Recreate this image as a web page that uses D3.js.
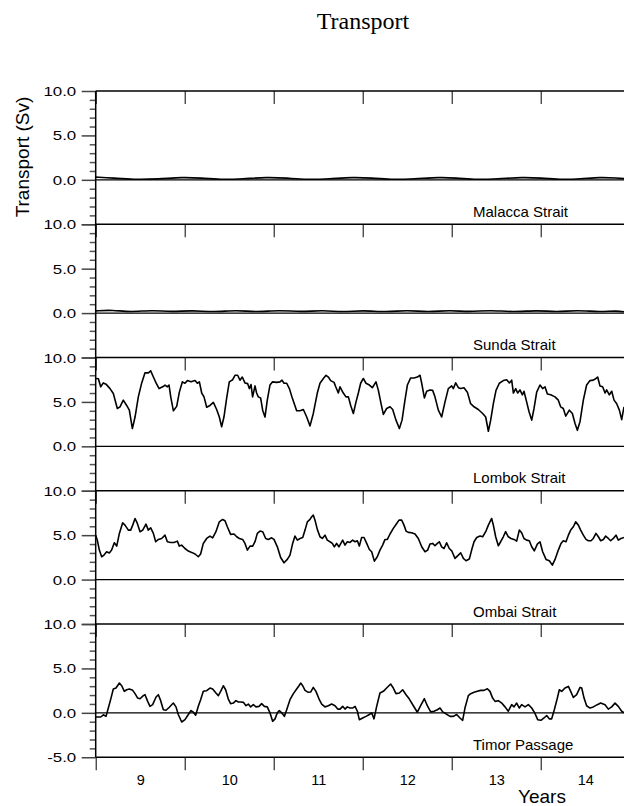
<!DOCTYPE html>
<html><head><meta charset="utf-8">
<script src="https://cdn.jsdelivr.net/npm/d3@7"></script>
<style>html,body{margin:0;padding:0;background:#fff}svg{display:block}</style>
</head><body>
<svg id="c" width="624" height="806"></svg>
<script>
// ---------------- DATA ----------------
const panelNames = ["Malacca Strait","Sunda Strait","Lombok Strait","Ombai Strait","Timor Passage"];
const yearLabels = ["9","10","11","12","13","14"];
const yTickValues = [-5, 0, 5, 10];

const malaccaT = [8.0,8.2,8.42,8.7,8.98,9.18,9.4,9.65,9.92,10.15,10.37,10.62,10.89,11.1,11.31,11.58,11.87,12.05,12.24,12.52,12.8,13.0,13.21,13.45,13.67,13.85,14.0];
const malaccaV = [0.3,0.2,0.03,0.08,0.3,0.2,0.03,0.1,0.3,0.2,0.03,0.1,0.3,0.2,0.03,0.1,0.3,0.2,0.03,0.1,0.3,0.2,0.03,0.1,0.3,0.2,0.1];

const sundaT = [8.0,8.19,8.39,8.64,8.84,9.09,9.32,9.59,9.79,10.07,10.30,10.55,10.78,11.00,11.27,11.50,11.73,11.98,12.20,12.43,12.69,12.96,13.18,13.41,13.67,13.85,14.0];
const sundaV = [0.25,0.35,0.1,0.35,0.12,0.32,0.1,0.35,0.1,0.35,0.12,0.33,0.1,0.32,0.1,0.35,0.1,0.33,0.12,0.35,0.1,0.33,0.1,0.35,0.1,0.3,0.05];

const lombokT = [8.000,8.030,8.056,8.086,8.116,8.161,8.198,8.243,8.273,8.310,8.348,8.378,8.412,8.442,8.479,8.517,8.554,8.592,8.618,8.648,8.678,8.712,8.753,8.779,8.805,8.824,8.843,8.873,8.910,8.940,8.974,9.003,9.030,9.071,9.116,9.142,9.165,9.191,9.217,9.247,9.284,9.322,9.359,9.389,9.415,9.441,9.471,9.501,9.539,9.565,9.595,9.621,9.647,9.677,9.707,9.726,9.745,9.763,9.790,9.808,9.827,9.853,9.876,9.902,9.928,9.958,9.988,10.033,10.071,10.093,10.116,10.146,10.176,10.210,10.258,10.296,10.333,10.371,10.408,10.445,10.490,10.520,10.558,10.588,10.614,10.640,10.678,10.697,10.726,
10.745,10.782,10.812,10.839,10.865,10.895,10.925,10.951,10.977,11.007,11.037,11.075,11.108,11.149,11.176,11.202,11.232,11.269,11.307,11.337,11.374,11.412,11.442,11.475,11.502,11.539,11.576,11.614,11.644,11.663,11.693,11.719,11.756,11.786,11.812,11.850,11.887,11.925,11.962,12.000,12.018,12.045,12.075,12.101,12.138,12.176,12.213,12.251,12.299,12.348,12.382,12.412,12.438,12.468,12.498,12.535,12.580,12.618,12.648,12.674,12.693,12.719,12.741,12.767,12.794,12.812,12.842,12.869,12.899,12.925,12.955,12.992,13.022,13.048,13.075,13.112,13.161,13.198,13.224,13.254,13.281,13.322,13.356,13.385,13.412,13.442,13.479,13.516,13.554,13.591,13.621,13.640,13.666,13.696,13.723,13.741,13.771,13.798,13.824,13.854,13.884,13.910,13.936];
const lombokV = [7.64,7.6,6.7,7.14,7.0,6.5,5.95,4.26,4.45,5.2,4.6,4.07,2.0,3.3,5.57,7.14,8.27,8.27,8.5,7.8,7.14,6.5,6.7,6.9,6.7,6.9,5.57,4.0,4.5,6.1,7.26,7.1,7.4,7.26,7.4,7.1,7.26,6.0,5.57,4.4,4.6,4.94,4.15,3.3,2.2,3.3,5.4,7.26,7.5,8.0,8.0,7.45,7.8,7.14,7.06,6.5,6.95,5.57,6.8,6.0,5.57,5.45,4.07,3.3,5.2,6.9,7.26,7.2,7.26,7.45,7.1,7.1,6.5,5.4,4.0,4.0,4.15,3.3,2.3,3.7,6.0,7.1,7.64,8.0,7.8,7.4,7.2,6.7,6.0,
6.7,6.0,5.57,5.57,4.6,3.7,5.0,6.0,7.1,7.64,7.1,6.9,6.6,7.26,6.3,5.0,3.6,4.26,4.45,4.15,2.95,2.0,2.95,5.2,6.9,7.7,7.7,7.8,8.0,7.1,5.45,6.2,6.35,6.3,5.57,4.07,3.3,5.0,6.5,6.8,6.5,7.14,6.6,6.5,6.6,6.1,4.8,4.45,4.15,3.7,3.3,1.7,2.95,4.8,6.3,7.1,7.4,7.5,7.14,7.45,6.0,6.5,6.0,6.35,5.8,6.2,5.0,3.9,2.95,4.26,6.1,6.9,6.5,6.7,5.9,5.8,5.57,5.2,4.45,4.26,3.4,4.07,3.7,2.6,1.8,2.8,5.2,6.9,7.4,7.45,7.64,7.8,6.8,6.7,6.0,6.35,5.8,6.2,5.2,4.8,4.07,3.0,4.45];

const ombaiT = [8.000,8.018,8.041,8.067,8.093,8.123,8.153,8.179,8.209,8.236,8.266,8.303,8.329,8.367,8.393,8.416,8.442,8.468,8.498,8.528,8.565,8.591,8.618,8.648,8.674,8.704,8.741,8.779,8.805,8.843,8.880,8.917,8.940,8.966,9.003,9.041,9.078,9.116,9.153,9.179,9.209,9.247,9.284,9.314,9.351,9.389,9.426,9.453,9.479,9.516,9.554,9.584,9.614,9.651,9.677,9.704,9.734,9.764,9.790,9.816,9.846,9.876,9.910,9.940,9.977,10.003,10.041,10.078,10.116,10.153,10.183,10.213,10.239,10.266,10.296,10.326,10.352,10.378,10.408,10.427,10.445,10.464,10.490,10.520,10.546,10.576,10.602,10.632,10.659,10.681,10.707,10.733,
10.775,10.801,10.827,10.857,10.887,10.914,10.940,10.962,10.988,11.015,11.045,11.075,11.101,11.131,11.164,11.194,11.224,11.251,11.277,11.307,11.344,11.382,11.408,11.438,11.464,11.487,11.513,11.550,11.588,11.625,11.663,11.700,11.730,11.756,11.786,11.812,11.839,11.861,11.887,11.914,11.943,11.973,12.000,12.037,12.075,12.101,12.131,12.161,12.198,12.224,12.251,12.281,12.318,12.348,12.382,12.412,12.449,12.468,12.494,12.524,12.550,12.580,12.606,12.636,12.666,12.700,12.730,12.760,12.786,12.812,12.842,12.872,12.899,12.928,12.962,12.992,13.022,13.060,13.097,13.131,13.161,13.198,13.228,13.254,13.284,13.311,13.337,13.367,13.393,13.423,13.449,13.479,13.509,13.535,13.565,13.591,13.621,13.648,13.674,13.704,13.730,13.760,13.786,13.816,13.846,13.872,13.902,13.936];
const ombaiV = [5.0,4.44,3.32,2.57,2.76,3.13,3.0,3.32,4.14,3.77,5.2,6.39,6.13,5.57,5.57,6.13,6.88,6.32,5.39,5.57,6.24,5.57,5.83,5.2,4.26,4.52,4.63,5.0,4.26,4.18,4.18,4.33,3.77,3.88,3.5,3.21,3.06,2.88,2.57,2.88,4.07,4.63,4.9,4.7,5.39,6.5,6.77,6.62,5.95,5.09,5.13,4.82,4.63,4.52,4.07,3.32,3.77,3.77,4.26,5.2,5.46,5.39,4.63,4.52,4.7,4.52,3.69,2.49,1.89,2.27,2.76,4.07,4.9,4.44,4.63,4.74,5.57,6.5,6.77,7.07,7.26,6.69,5.65,4.82,4.63,5.0,4.44,4.26,4.07,3.69,4.07,3.69,
4.44,3.88,4.26,4.18,4.44,4.26,4.37,3.77,4.74,4.74,4.07,3.39,3.13,2.08,2.57,3.32,3.88,4.52,4.52,5.13,5.76,6.32,6.69,6.69,6.13,5.46,5.31,5.28,5.13,4.63,3.69,3.13,3.32,4.0,4.07,3.81,4.07,4.26,3.69,3.5,4.14,3.5,3.24,2.38,2.76,3.02,2.38,2.12,2.31,3.32,4.26,4.74,4.9,4.82,5.39,6.13,6.88,6.13,4.82,3.81,4.26,4.82,5.39,4.82,4.63,4.52,4.33,5.57,5.28,4.63,4.44,4.37,3.69,3.24,4.0,4.26,3.13,2.27,2.12,1.63,2.27,3.32,4.07,4.37,4.26,5.0,5.57,5.95,6.5,6.13,5.57,5.0,4.52,4.37,4.37,4.63,5.2,4.82,4.37,4.52,4.9,4.63,4.37,4.63,5.0,4.44,4.63,4.74];

const timorT = [8.000,8.030,8.056,8.086,8.116,8.142,8.172,8.198,8.228,8.266,8.292,8.322,8.348,8.378,8.416,8.442,8.472,8.498,8.535,8.554,8.584,8.610,8.640,8.678,8.704,8.730,8.760,8.790,8.827,8.872,8.902,8.928,8.966,9.003,9.041,9.071,9.097,9.123,9.153,9.179,9.209,9.247,9.284,9.314,9.351,9.378,9.404,9.434,9.460,9.490,9.516,9.546,9.576,9.602,9.632,9.659,9.689,9.715,9.741,9.771,9.801,9.835,9.865,9.895,9.928,9.958,9.988,10.015,10.041,10.063,10.090,10.120,10.146,10.183,10.221,10.258,10.284,10.303,10.326,10.352,10.389,10.415,10.445,10.475,10.513,10.539,10.576,10.614,10.651,10.689,10.719,
10.745,10.775,10.801,10.827,10.857,10.887,10.914,10.940,10.962,11.000,11.037,11.075,11.101,11.127,11.157,11.194,11.232,11.269,11.314,11.344,11.374,11.412,11.449,11.487,11.524,11.569,11.614,11.651,11.693,11.726,11.764,11.801,11.839,11.869,11.899,11.936,11.981,12.018,12.056,12.093,12.123,12.149,12.187,12.213,12.251,12.288,12.326,12.363,12.401,12.430,12.460,12.487,12.524,12.562,12.599,12.636,12.674,12.700,12.730,12.760,12.786,12.824,12.861,12.899,12.936,12.966,13.003,13.037,13.067,13.097,13.123,13.153,13.187,13.209,13.236,13.273,13.311,13.337,13.367,13.404,13.442,13.461,13.487,13.516,13.554,13.591,13.636,13.674,13.723,13.760,13.798,13.835,13.872,13.910,13.936];
const timorV = [-0.47,-0.47,-0.47,-0.22,-0.4,0.54,1.66,2.68,2.79,3.35,3.05,2.42,2.6,2.68,2.53,2.16,1.66,1.59,1.94,2.04,1.29,0.73,0.92,1.78,2.04,1.37,0.35,0.29,0.63,1.1,0.67,-0.19,-1.03,-0.77,-0.19,0.26,0.07,-0.26,0.73,1.48,2.42,2.49,2.79,2.68,2.23,1.94,2.42,3.05,2.6,1.55,1.03,1.1,1.37,1.22,1.22,1.18,0.8,0.99,0.67,0.92,0.67,0.73,1.03,0.73,0.67,0.0,-0.96,-0.68,0.0,0.26,0.0,-0.4,0.35,1.48,2.16,2.68,3.05,3.35,3.05,2.53,2.31,2.34,2.86,2.42,1.48,0.99,0.67,0.8,0.99,0.8,0.42,
0.42,0.73,0.42,0.67,0.54,0.54,0.73,0.18,-0.77,-0.58,-0.4,-0.19,0.0,-0.68,0.73,2.23,2.42,2.79,3.24,2.79,2.16,2.23,2.6,2.04,1.55,0.8,0.07,0.8,1.59,0.8,0.11,0.18,0.35,0.54,0.11,-0.11,-0.4,-0.4,-0.19,-0.58,-0.84,0.54,1.94,2.16,2.31,2.42,2.53,2.53,2.71,2.42,1.66,1.29,1.37,1.1,0.67,0.18,0.92,0.67,1.1,0.54,0.92,0.67,0.92,0.54,-0.07,-0.77,-0.84,-0.58,-0.3,-0.68,-0.68,0.35,1.66,2.6,2.42,2.79,2.97,2.42,1.73,2.04,2.86,2.79,1.66,0.8,0.54,0.67,0.92,1.1,0.92,0.42,0.67,1.1,0.73,0.18,0.0];

const seriesT = [malaccaT, sundaT, lombokT, ombaiT, timorT];
const seriesV = [malaccaV, sundaV, lombokV, ombaiV, timorV];
const smoothSeries = [true, true, false, false, false];

// ---------------- LAYOUT ----------------
const svg = d3.select("#c");
const left = 95.7, pxPerYear = 89;
const top0 = 91, panelH = 133.25;
const x = d3.scaleLinear().domain([8, 14]).range([left, left + 6 * pxPerYear]);
const rightEdge = 624;
const sans = "'Liberation Sans', Arial, Helvetica, sans-serif";
const fmt = d => d3.format(".1f")(d).replace("\u2212", "-");

svg.append("defs").append("clipPath").attr("id","clip")
  .append("rect").attr("x", left).attr("y", 0).attr("width", rightEdge - left + 10).attr("height", 806);

// title
svg.append("text").attr("x", 363).attr("y", 29).attr("text-anchor","middle")
  .style("font-family","'Liberation Serif','Times New Roman',serif").style("font-size","24px").text("Transport");

// y label
svg.append("text").attr("transform","translate(28.5,157) rotate(-90)").attr("text-anchor","middle")
  .style("font-family", sans).style("font-size","19px").text("Transport (Sv)");

panelNames.forEach((name, i) => {
  const top = top0 + i * panelH;
  const y = d3.scaleLinear().domain([-5, 10]).range([top + panelH, top]);
  const g = svg.append("g");

  // minor y ticks
  const minorVals = d3.range(-5, 11, 1).filter(v => !yTickValues.includes(v));
  g.append("g").attr("transform", `translate(${left},0)`)
    .call(d3.axisLeft(y).tickValues(minorVals).tickSize(6).tickFormat(""))
    .call(a => a.select(".domain").remove())
    .call(a => a.selectAll("line").attr("stroke","#555").attr("stroke-width",1.5));

  // major y ticks
  const labelled = i === panelNames.length - 1 ? yTickValues : yTickValues.filter(v => v !== -5);
  const ax = g.append("g").attr("transform", `translate(${left},0)`)
    .call(d3.axisLeft(y).tickValues(yTickValues).tickSize(14)
      .tickFormat(d => labelled.includes(d) ? fmt(d) : ""))
    .call(a => a.select(".domain").remove())
    .call(a => a.selectAll("line").attr("stroke","#444").attr("stroke-width",1.5));
  ax.selectAll("text")
    .attr("x", -19.5 / 1.35).attr("dy","0.36em")
    .attr("transform","scale(1.35,1)")
    .style("font-family", sans).style("font-size","12.5px").attr("fill","#000");

  // x ticks at panel top (pointing down)
  g.append("g").attr("transform", `translate(0,${top})`)
    .call(d3.axisBottom(x).tickValues(d3.range(8, 15)).tickSize(13).tickFormat(""))
    .call(a => a.select(".domain").remove())
    .call(a => a.selectAll("line").attr("stroke","#000").attr("stroke-width",1));

  // panel top border
  g.append("line").attr("x1", left).attr("x2", rightEdge).attr("y1", top).attr("y2", top)
    .attr("stroke","#000").attr("stroke-width",1.4);
  // zero line
  g.append("line").attr("x1", left).attr("x2", rightEdge).attr("y1", y(0)).attr("y2", y(0))
    .attr("stroke","#000").attr("stroke-width",1.2);

  // data line
  const pts = d3.zip(seriesT[i], seriesV[i]);
  const line = d3.line().x(d => x(d[0])).y(d => y(d[1]))
    .curve(smoothSeries[i] ? d3.curveBasis : d3.curveLinear);
  g.append("path").datum(pts).attr("clip-path","url(#clip)")
    .attr("d", line).attr("fill","none").attr("stroke","#000").attr("stroke-width",1.6)
    .attr("stroke-linejoin","round");

  // panel label
  g.append("text").attr("x", 473).attr("y", top + panelH - 7.5)
    .style("font-family", sans).style("font-size","15px").text(name);
});

// bottom border
const bottom = top0 + 5 * panelH;
svg.append("line").attr("x1", left).attr("x2", rightEdge).attr("y1", bottom).attr("y2", bottom)
  .attr("stroke","#000").attr("stroke-width",1.4);
// left spine
svg.append("line").attr("x1", left).attr("x2", left).attr("y1", top0).attr("y2", bottom)
  .attr("stroke","#000").attr("stroke-width",1.5);

// bottom axis ticks (outward)
svg.append("g").attr("transform", `translate(0,${bottom})`)
  .call(d3.axisBottom(x).tickValues(d3.range(8, 15)).tickSize(13).tickFormat(""))
  .call(a => a.select(".domain").remove())
  .call(a => a.selectAll("line").attr("stroke","#000").attr("stroke-width",1));

// year labels centred in each year
const labAxis = svg.append("g").attr("transform", `translate(0,${bottom})`)
  .call(d3.axisBottom(x).tickValues(yearLabels.map((d, k) => 8.5 + k)).tickSize(0)
    .tickFormat((d, k) => yearLabels[k]))
  .call(a => a.select(".domain").remove());
labAxis.selectAll("text").attr("y", 28).attr("dy", 0)
  .style("font-family", sans).style("font-size","14.5px").attr("fill","#000");

// x title
svg.append("text").attr("x", 542).attr("y", 803).attr("text-anchor","middle")
  .style("font-family", sans).style("font-size","19px").text("Years");
</script>
</body></html>
